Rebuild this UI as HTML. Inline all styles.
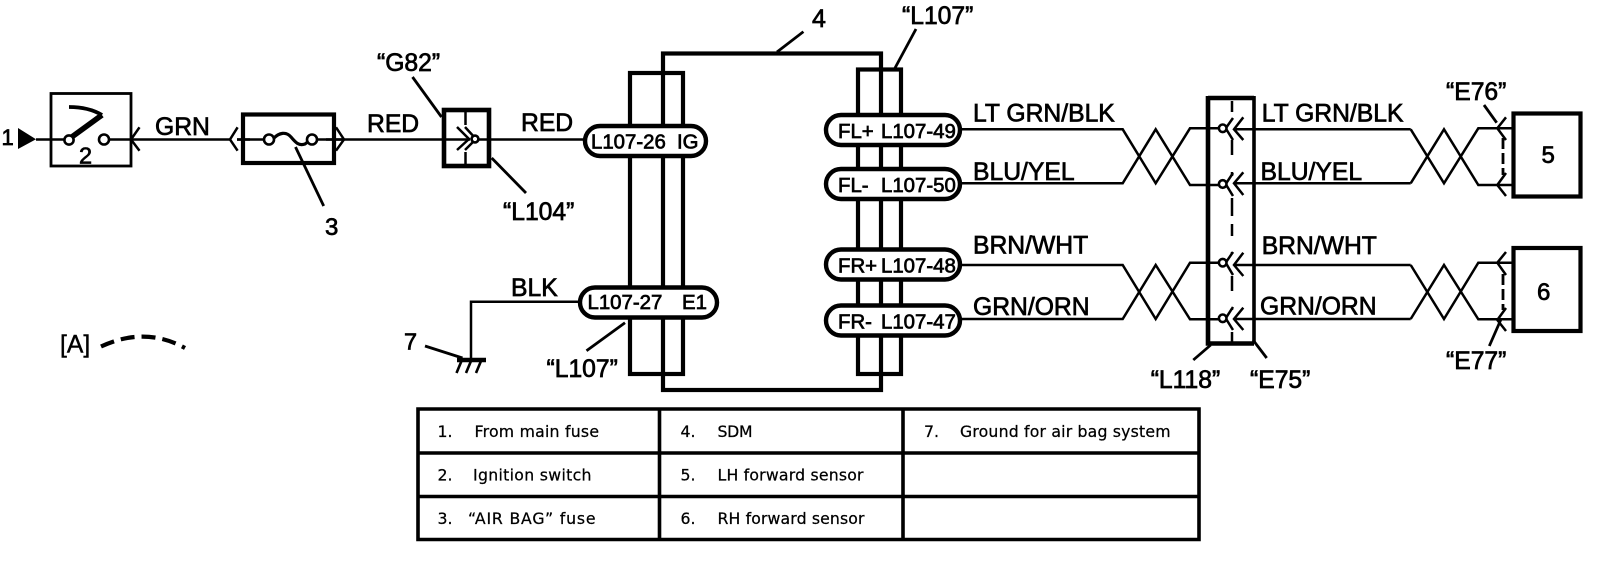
<!DOCTYPE html>
<html>
<head>
<meta charset="utf-8">
<title>Air bag system wiring diagram</title>
<style>
html,body{margin:0;padding:0;background:#fff;width:1600px;height:588px;overflow:hidden}
svg{display:block}
.t{font-family:"Liberation Sans",sans-serif;font-size:24.7px;fill:#000;stroke:#000;stroke-width:.7}
.p{font-family:"Liberation Sans",sans-serif;font-size:20.4px;fill:#000;stroke:#000;stroke-width:.7}
.s{font-family:"DejaVu Sans",sans-serif;font-size:15.7px;fill:#000;stroke:#000;stroke-width:.25}
.w{fill:none;stroke:#000;stroke-width:2.5}
.l{fill:none;stroke:#000;stroke-width:2.8}
.b{fill:none;stroke:#000;stroke-width:4.2}
.pill{fill:#fff;stroke:#000;stroke-width:4.4}
.c{fill:#fff;stroke:#000;stroke-width:2.6}
</style>
</head>
<body>
<svg width="1600" height="588" viewBox="0 0 1600 588" xmlns="http://www.w3.org/2000/svg">
<rect width="1600" height="588" fill="#fff"/>

<!-- left wiring -->
<text class="t" x="1.5" y="145" style="font-size:22px">1</text>
<polygon points="18,128 18,149 36,139.3" fill="#000"/>
<path class="w" d="M36 139.5H66M108 139.5H230M237 139.5H264M317 139.5H344M344 139.5H585"/>
<rect x="51" y="93.5" width="80" height="72.5" class="l"/>
<path d="M69 139L102 115" fill="none" stroke="#000" stroke-width="5.5"/>
<path d="M102 115C92 109 80 107 69 107" fill="none" stroke="#000" stroke-width="3.8"/>
<circle cx="69" cy="140" r="4.6" class="c"/>
<circle cx="104" cy="139.5" r="5" class="c"/>
<text class="t" x="79" y="163.5" style="font-size:23.5px">2</text>
<path class="w" d="M139.5 127.3L131 139.5L139.5 150.7"/>
<text class="t" x="155" y="135">GRN</text>

<rect x="243" y="114.5" width="91" height="48.5" class="b"/>
<path class="w" d="M237.6 127.3L230 139.5L237.6 150.7M336 127.3L344 139.5L336 150.7"/>
<rect x="250" y="124" width="76" height="30" fill="#fff"/>
<path class="w" d="M237 139.5H264M317 139.5H344"/>
<path d="M274 138C279 133 286 131 291 137S299 146 305 144L309 141" fill="none" stroke="#000" stroke-width="3.2"/>
<circle cx="269" cy="139.5" r="5" class="c"/>
<circle cx="312" cy="139.5" r="5" class="c"/>
<path class="l" d="M295.5 147L323.7 206"/>
<text class="t" x="325" y="235" style="font-size:24px">3</text>
<text class="t" x="367" y="132">RED</text>

<text class="t" x="377" y="71">“G82”</text>
<path class="l" d="M412.5 77L441.5 117"/>
<rect x="444" y="110" width="45" height="56" fill="#fff" stroke="#000" stroke-width="4.6"/>
<path class="w" d="M444 139.5H470M478 139.5H489"/>
<path class="w" d="M465.5 112V125M465.5 152V164"/>
<path class="w" d="M457 127L469 139L457 150M465 127L476 139L465 150"/>
<circle cx="475" cy="139" r="3.4" class="c"/>
<path class="l" d="M491.7 158L526 193"/>
<text class="t" x="503" y="220">“L104”</text>
<text class="t" x="521" y="131">RED</text>

<!-- SDM -->
<rect x="663" y="53.5" width="218" height="336.5" class="b"/>
<rect x="630" y="73" width="53" height="301" class="b"/>
<rect x="858" y="69.5" width="43" height="304.5" class="b"/>
<text class="t" x="812" y="27" style="font-size:25px">4</text>
<path class="l" d="M777 52L803.4 31.7"/>
<text class="t" x="902" y="24">“L107”</text>
<path class="l" d="M916 29L895 68"/>

<rect x="585" y="126" width="121" height="30" rx="15" class="pill"/>
<text class="p" x="591" y="148.5">L107-26</text>
<text class="p" x="677" y="148.5">IG</text>
<rect x="580" y="287.5" width="137" height="30" rx="15" class="pill"/>
<text class="p" x="587.5" y="309">L107-27</text>
<text class="p" x="682" y="309">E1</text>

<rect x="826" y="115" width="134" height="30" rx="15" class="pill"/>
<text class="p" x="838" y="138">FL+</text><text class="p" x="881" y="138">L107-49</text>
<rect x="826" y="169" width="134" height="30" rx="15" class="pill"/>
<text class="p" x="838" y="192">FL-</text><text class="p" x="881" y="192">L107-50</text>
<rect x="826" y="249.5" width="134" height="30" rx="15" class="pill"/>
<text class="p" x="838" y="272.5">FR+</text><text class="p" x="881" y="272.5">L107-48</text>
<rect x="826" y="305.5" width="134" height="30" rx="15" class="pill"/>
<text class="p" x="838" y="328.5">FR-</text><text class="p" x="881" y="328.5">L107-47</text>

<!-- ground -->
<path class="w" d="M581 301.7H471V358"/>
<text class="t" x="511" y="296">BLK</text>
<path class="l" d="M625 322.7L586.5 350.7"/>
<text class="t" x="546.5" y="377">“L107”</text>
<text class="t" x="404" y="349.5" style="font-size:23.5px">7</text>
<path class="l" d="M425 346L462.5 358"/>
<path d="M457 360H486" stroke="#000" stroke-width="4.6" fill="none"/>
<path d="M461.5 361L456.5 373M471 361L466 373M481 361L476 373" stroke="#000" stroke-width="2.6" fill="none"/>

<!-- A legend -->
<text class="t" x="60" y="352.5" style="stroke-width:.4">[A]</text>
<path d="M101 346.5Q145 326 185 348" fill="none" stroke="#000" stroke-width="4.2" stroke-dasharray="14 7"/>

<!-- right wires left of L118 -->
<path class="w" d="M960 129.3H1122.7L1155.7 183.3L1190 128.3H1222M960 183.3H1122.7L1155.7 129.3L1190 185H1222"/>
<path class="w" d="M960 265H1122.7L1155.7 319L1190 262.7H1222M960 319H1122.7L1155.7 265L1190 319.3H1222"/>
<text class="t" x="973" y="121.7">LT GRN/BLK</text>
<text class="t" x="973" y="180">BLU/YEL</text>
<text class="t" x="973" y="253.5">BRN/WHT</text>
<text class="t" x="973" y="315">GRN/ORN</text>

<!-- L118 connector -->
<path d="M1208 98H1254M1208 96V343.5H1254" fill="none" stroke="#000" stroke-width="4.6"/>
<path d="M1254 96V343" fill="none" stroke="#000" stroke-width="3.6"/>
<path class="w" d="M1232 101V112M1232 140V155M1232 172V176M1232 198V216M1232 224V236M1232 252V254M1232 276V291M1232 308V310M1232 332V342"/>
<path class="w" d="M1233 118L1225.7 128.3L1233 140M1243.3 117.3L1234 129.3L1243.3 140M1234 129.3H1410.7"/>
<path class="w" d="M1233 173L1225.7 184L1233 196M1243.3 172.3L1234 183.3L1243.3 195M1234 183.3H1410.7"/>
<path class="w" d="M1233 252L1225.7 262.7L1233 275M1243.3 252.7L1234 265L1243.3 276M1234 265H1410.7"/>
<path class="w" d="M1233 307L1225.7 318.3L1233 330M1243.3 307.7L1234 319L1243.3 330M1234 319H1410.7"/>
<circle cx="1222.7" cy="128.3" r="3.8" class="c"/>
<circle cx="1222.7" cy="184" r="3.8" class="c"/>
<circle cx="1222.7" cy="262.7" r="3.8" class="c"/>
<circle cx="1222.7" cy="318.3" r="3.8" class="c"/>
<text class="t" x="1261.7" y="121.7">LT GRN/BLK</text>
<text class="t" x="1260.5" y="180">BLU/YEL</text>
<text class="t" x="1261.7" y="254">BRN/WHT</text>
<text class="t" x="1260" y="314.5">GRN/ORN</text>
<path class="l" d="M1210.7 345L1193.3 360"/>
<path class="l" d="M1253 340L1266.7 358"/>
<text class="t" x="1150.7" y="388">“L118”</text>
<text class="t" x="1250" y="388">“E75”</text>

<!-- right twists and sensors -->
<path class="w" d="M1410.7 129.3L1444 183.3L1478.3 128.3H1513M1410.7 183.3L1444 129.3L1478.3 185H1513"/>
<path class="w" d="M1410.7 265L1444 319L1478.3 262.7H1513M1410.7 319L1444 265L1478.3 319.3H1513"/>
<path class="w" d="M1506 117.3L1497.3 128.3L1506 140M1506 173L1497.3 185L1506 196"/>
<path class="w" d="M1506 252L1497.3 262.7L1506 275M1506 308L1497.3 320L1506 331"/>
<path d="M1503 138V175M1503 274V310" fill="none" stroke="#000" stroke-width="2.8" stroke-dasharray="11 4"/>
<text class="t" x="1446" y="100">“E76”</text>
<path class="l" d="M1484 105L1496.7 122.7"/>
<text class="t" x="1446" y="369">“E77”</text>
<path class="l" d="M1500.7 320L1489.3 346"/>
<rect x="1513.5" y="113.5" width="67" height="83" class="b"/>
<rect x="1513.5" y="248" width="67" height="83" class="b"/>
<text class="t" x="1541.5" y="163" style="font-size:24px">5</text>
<text class="t" x="1537" y="300" style="font-size:24px">6</text>

<!-- table -->
<path fill="none" stroke="#000" stroke-width="3.6" d="M418 409H1199V539.5H418ZM418 453H1199M418 496.5H1199M659.5 409V539.5M903 409V539.5"/>
<text class="s" x="437.5" y="437">1.</text>
<text class="s" x="474.5" y="437" textLength="124.5" lengthAdjust="spacing">From main fuse</text>
<text class="s" x="437.5" y="480.7">2.</text>
<text class="s" x="473" y="480.7" textLength="118.5" lengthAdjust="spacing">Ignition switch</text>
<text class="s" x="437.5" y="524">3.</text>
<text class="s" x="468" y="524" textLength="127.5" lengthAdjust="spacing">“AIR BAG” fuse</text>
<text class="s" x="680.5" y="437">4.</text>
<text class="s" x="717.5" y="437" textLength="35" lengthAdjust="spacing">SDM</text>
<text class="s" x="680.5" y="480.7">5.</text>
<text class="s" x="717.5" y="480.7" textLength="146" lengthAdjust="spacing">LH forward sensor</text>
<text class="s" x="680.5" y="524">6.</text>
<text class="s" x="717.5" y="524" textLength="147" lengthAdjust="spacing">RH forward sensor</text>
<text class="s" x="924" y="437">7.</text>
<text class="s" x="960" y="437" textLength="210.5" lengthAdjust="spacing">Ground for air bag system</text>
</svg>
</body>
</html>
